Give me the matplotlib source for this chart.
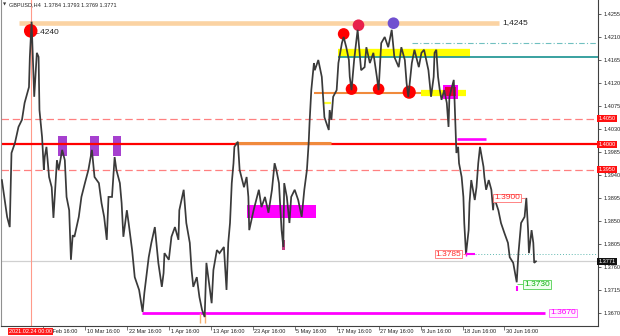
import matplotlib
matplotlib.use('Agg')
import matplotlib.pyplot as plt
import matplotlib.transforms as mtransforms
from matplotlib.patches import Rectangle

plt.rcParams['font.family'] = ['Liberation Sans', 'DejaVu Sans']

# ---------------- data ----------------
bars = [0,6,9,11,15,19,23,26,31,32,
        34,37,40,42,43,46,48,49,51,54,
        57,59,63,65,69,72,74,77,79,81,
        83,88,91,95,99,103,106,111,114,117,
        120,122,126,129,131,135,137,139,143,145,
        149,152,157,161,163,168,171,175,179,183,
        185,186,191,194,198,202,203,208,211,215,
        217,219,223,226,229,232,234,237,240,242,
        246,249,254,257,259,261,263,265,266,270,
        272,277,280,282,283,288,294,297,301,305,
        309,312,314,317,320,322,323,326,329,331,
        335,339,343,346,349,351,352,354,357,358,
        362,366,368,369,374,375,377,379,383,385,
        389,391,394,397,398,400,403,407,409,411,
        415,417,421,425,429,431,434,438,442,446,
        449,454,457,461,463,465,469,472,477,480,
        483,488,491,494,495,497,499,501,503,506,
        509,511,512,517,518,520,522,523,526,528,
        529,531,534,535,537,541,543,545,547,551,
        552,554,557,560,562,563,568,571,575,579,
        581,585,589,591,594,598,600,602,603,606,
        608,609,611]
prices = [1.3930,1.3858,1.3838,1.3983,1.4003,1.4034,1.4048,1.4081,1.4112,1.4171,
          1.4240,1.4093,1.4179,1.4171,1.4067,1.4014,1.3950,1.3975,1.3995,1.3936,
          1.3916,1.3856,1.3969,1.3950,1.3989,1.3969,1.3897,1.3871,1.3774,1.3822,
          1.3819,1.3858,1.3897,1.3924,1.3950,1.3989,1.3936,1.3924,1.3885,1.3858,
          1.3813,1.3897,1.3897,1.3975,1.3950,1.3924,1.3885,1.3819,1.3871,1.3846,
          1.3793,1.3740,1.3715,1.3672,1.3709,1.3779,1.3807,1.3838,1.3768,1.3721,
          1.3748,1.3787,1.3774,1.3819,1.3838,1.3813,1.3871,1.3911,1.3846,1.3807,
          1.3754,1.3721,1.3740,1.3701,1.3676,1.3662,1.3768,1.3729,1.3689,1.3754,
          1.3793,1.3787,1.3799,1.3715,1.3807,1.3846,1.3924,1.3963,1.3995,1.4005,
          1.3950,1.3916,1.3936,1.3897,1.3832,1.3871,1.3911,1.3877,1.3897,1.3866,
          1.3911,1.3963,1.3950,1.3924,1.3832,1.3799,1.3924,1.3897,1.3846,1.3897,
          1.3911,1.3891,1.3858,1.3911,1.3950,1.4003,1.4042,1.4106,1.4159,1.4145,
          1.4165,1.4132,1.4081,1.4053,1.4028,1.4067,1.4048,1.4093,1.4106,1.4159,
          1.4198,1.4210,1.4190,1.4165,1.4132,1.4106,1.4165,1.4224,1.4185,1.4145,
          1.4151,1.4190,1.4159,1.4179,1.4132,1.4106,1.4198,1.4210,1.4190,1.4224,
          1.4171,1.4151,1.4190,1.4165,1.4120,1.4093,1.4159,1.4185,1.4151,1.4179,
          1.4185,1.4145,1.4093,1.4132,1.4179,1.4185,1.4132,1.4106,1.4087,1.4106,
          1.4081,1.4034,1.4093,1.4126,1.4081,1.3983,1.3995,1.3963,1.3936,1.3897,
          1.3846,1.3785,1.3832,1.3885,1.3930,1.3891,1.3916,1.3963,1.3995,1.3956,
          1.3936,1.3911,1.3930,1.3911,1.3871,1.3897,1.3871,1.3846,1.3826,1.3807,
          1.3779,1.3768,1.3730,1.3787,1.3846,1.3858,1.3895,1.3832,1.3787,1.3832,
          1.3807,1.3768,1.3771]
assert len(bars) == len(prices), (len(bars), len(prices))

ytick_vals = [1.4255, 1.4210, 1.4165, 1.4120, 1.4075, 1.4030, 1.3985,
              1.3940, 1.3895, 1.3850, 1.3805, 1.3760, 1.3715, 1.3670]
date_tick_bars = [47, 95, 143, 191, 239, 287, 335, 383, 431, 479, 527, 575]
date_labels = ["26 Feb 16:00", "10 Mar 16:00", "22 Mar 16:00", "1 Apr 16:00",
               "13 Apr 16:00", "23 Apr 16:00", "5 May 16:00", "17 May 16:00",
               "27 May 16:00", "8 Jun 16:00", "18 Jun 16:00", "30 Jun 16:00"]

level_main = 1.4000
levels_dashed = [1.4050, 1.3950]
level_current = 1.3771
cursor_bar = 33
cursor_label = "2021.02.24 00:00"
title = "GBPUSD,H4  1.3784 1.3793 1.3769 1.3771"

# circles (bar, price, colour)
circ_bars = [33, 391, 408, 448, 400, 431, 466]
circ_prices = [1.4222, 1.4216, 1.4233, 1.4237, 1.4108, 1.4108, 1.4102]
circ_colors = ['#ff0000', '#ff0000', '#e8204a', '#7050d0', '#ff0000', '#ff0000', '#ff0000']

# ---------------- figure ----------------
fig = plt.figure(figsize=(6.2, 3.36), dpi=100)
ax = fig.add_axes([1/620, 10/336, 597/620, 326/336])
ax.set_xlim(-1, 682)
ax.set_ylim(1.36444, 1.42824)
ax.set_facecolor('white')
bt = mtransforms.blended_transform_factory(ax.transData, ax.transAxes)
rt = mtransforms.blended_transform_factory(ax.transAxes, ax.transData)

# horizontal zones / lines
ax.hlines(1.4238, 20, 569, color='#fbd3a3', lw=3.3, zorder=1)
ax.text(573, 1.4239, "1,4245", fontsize=6, va='center', ha='left', color='#222222', zorder=6)

ax.hlines(1.4178, 385, 535, color='#ffff00', lw=6.0, zorder=1)
ax.hlines(1.4171, 385, 682, color='#2a9a98', lw=1.3, zorder=2)
ax.hlines(1.4199, 469, 682, color='#70c0c0', lw=0.8, linestyles=(0, (5, 2, 1, 2)), zorder=2)
ax.hlines(1.4101, 357, 480, color='#f08a3c', lw=1.5, zorder=2)
ax.hlines(1.4101, 480, 531, color='#ffff00', lw=4.5, zorder=1)
ax.hlines(1.4080, 368, 377, color='#ffff30', lw=1.6, zorder=2)
ax.add_patch(Rectangle((505, 1.4089), 17, 0.0027, fc='#ff00ff', ec='none', zorder=1.5))
ax.add_patch(Rectangle((507, 1.4095), 13, 0.0017, fc='#e0003c', ec='none', zorder=1.6))

ax.axhline(level_main, color='#ff0000', lw=1.6, zorder=2.5)
for lv in levels_dashed:
    ax.axhline(lv, color='#ff8080', lw=0.9, ls=(0, (6, 3)), zorder=2)
ax.hlines(1.4002, 267, 377, color='#f08a3c', lw=2.2, zorder=2.6)

for x0, x1 in [(64, 74), (101, 111), (127, 136)]:
    ax.add_patch(Rectangle((x0, 1.3977), x1 - x0, 0.0039, fc='#a640cf', ec='none', zorder=2))
ax.add_patch(Rectangle((281, 1.3856), 78, 0.0025, fc='#ff00ff', ec='none', zorder=1.5))
ax.add_patch(Rectangle((320, 1.3793), 3.5, 0.0020, fc='#c03c82', ec='none', zorder=1.5))
ax.hlines(1.4011, 521, 554, color='#ff00ff', lw=1.9, zorder=2)

ax.axhline(level_current, color='#d0d0d0', lw=0.9, zorder=1)
ax.hlines(1.3785, 541, 682, color='#60b8b0', lw=0.7, linestyles=(0, (1, 2)), zorder=1)
ax.hlines(1.3785, 531, 541, color='#ff00ff', lw=1.5, zorder=4)
ax.vlines(531, 1.3781, 1.3789, color='#ff00ff', lw=1.0, zorder=4)
ax.vlines(589, 1.3712, 1.3722, color='#ff00ff', lw=1.5, zorder=4)
ax.hlines(1.3670, 160, 621, color='#ff00ff', lw=2.0, zorder=2)
ax.vlines([227, 232], 1.3650, 1.3670, color='#f5b070', lw=1.0, zorder=2)

ax.axvline(cursor_bar, color='#ff9a8a', lw=0.8, zorder=1)

# circles
ax.scatter(circ_bars, circ_prices, s=[95, 70, 70, 70, 70, 70, 90], c=circ_colors,
           edgecolors='none', zorder=2.8)

# price path
ax.plot(bars, prices, color='#3a3a3a', lw=1.25, zorder=3, solid_joinstyle='miter')

# labels in chart
ax.text(35.5, 1.4218, "1.4240", fontsize=6, va='center', ha='left', color='#222222', zorder=2.7)
ax.text(578, 1.3895, "1.3900", fontsize=6, va='center', ha='center', color='#ff2a2a', zorder=6,
        bbox=dict(fc='white', ec='#ff7070', lw=0.6, pad=0.6))
ax.hlines(1.3895, 594, 599, color='#ff7070', lw=0.6, zorder=5)
ax.text(511, 1.3785, "1.3785", fontsize=6, va='center', ha='center', color='#ff2a2a', zorder=6,
        bbox=dict(fc='white', ec='#ff7070', lw=0.6, pad=0.6))
ax.hlines(1.3785, 527, 531, color='#ff7070', lw=0.6, zorder=5)
ax.text(612, 1.3726, "1.3730", fontsize=6, va='center', ha='center', color='#10b010', zorder=6,
        bbox=dict(fc='#f0fff0', ec='#50d050', lw=0.6, pad=0.6))
ax.hlines(1.3726, 589, 597, color='#50d050', lw=0.6, zorder=5)
ax.text(642, 1.3670, "1.3670", fontsize=6, va='center', ha='center', color='#ff00ff', zorder=6,
        bbox=dict(fc='#fff4ff', ec='#ff60ff', lw=0.6, pad=0.6))

# title
ax.text(0.004, 0.985, "\u25BC", transform=ax.transAxes, fontsize=3, va='center', ha='left',
        family=['DejaVu Sans'], color='#333333')
ax.text(0.013, 0.985, title, transform=ax.transAxes, fontsize=4, va='center', ha='left',
        color='#222222')

# axes styling
ax.spines['top'].set_visible(False)
ax.spines['left'].set_color('#909090')
ax.spines['bottom'].set_color('#404040')
ax.spines['right'].set_color('#404040')
for s in ['left', 'bottom', 'right']:
    ax.spines[s].set_linewidth(0.8)

ax.yaxis.tick_right()
ax.set_yticks(ytick_vals)
ax.set_yticklabels([f"{v:.4f}" for v in ytick_vals])
ax.tick_params(axis='y', length=2, width=0.5, pad=2, labelsize=4, colors='#222222')

ax.set_xticks(date_tick_bars)
ax.set_xticklabels([])
ax.tick_params(axis='x', length=3, width=0.5, direction='out', colors='#404040')
for b, lab in zip(date_tick_bars, date_labels):
    ax.text(b + 2, -0.016, lab, transform=bt, fontsize=4, va='center', ha='left',
            color='#222222', clip_on=False)

# right-axis level boxes
for lv in [1.4050, 1.4000, 1.3950]:
    ax.text(1.001, lv, f"{lv:.4f}", transform=rt, fontsize=4, va='center', ha='left',
            color='white', zorder=7, clip_on=False,
            bbox=dict(fc='#ff1010', ec='none', pad=0.8))
ax.text(1.001, level_current, f"{level_current:.4f}", transform=rt, fontsize=4, va='center',
        ha='left', color='white', zorder=7, clip_on=False,
        bbox=dict(fc='#111111', ec='none', pad=0.8))

# cursor date box (covers the first date label, as in the terminal)
ax.text(cursor_bar, -0.016, cursor_label, transform=bt, fontsize=4, va='center', ha='center',
        color='white', zorder=8, clip_on=False,
        bbox=dict(fc='#ff1a1a', ec='none', pad=0.8))

fig.savefig('out.png', dpi=100, facecolor='white')
